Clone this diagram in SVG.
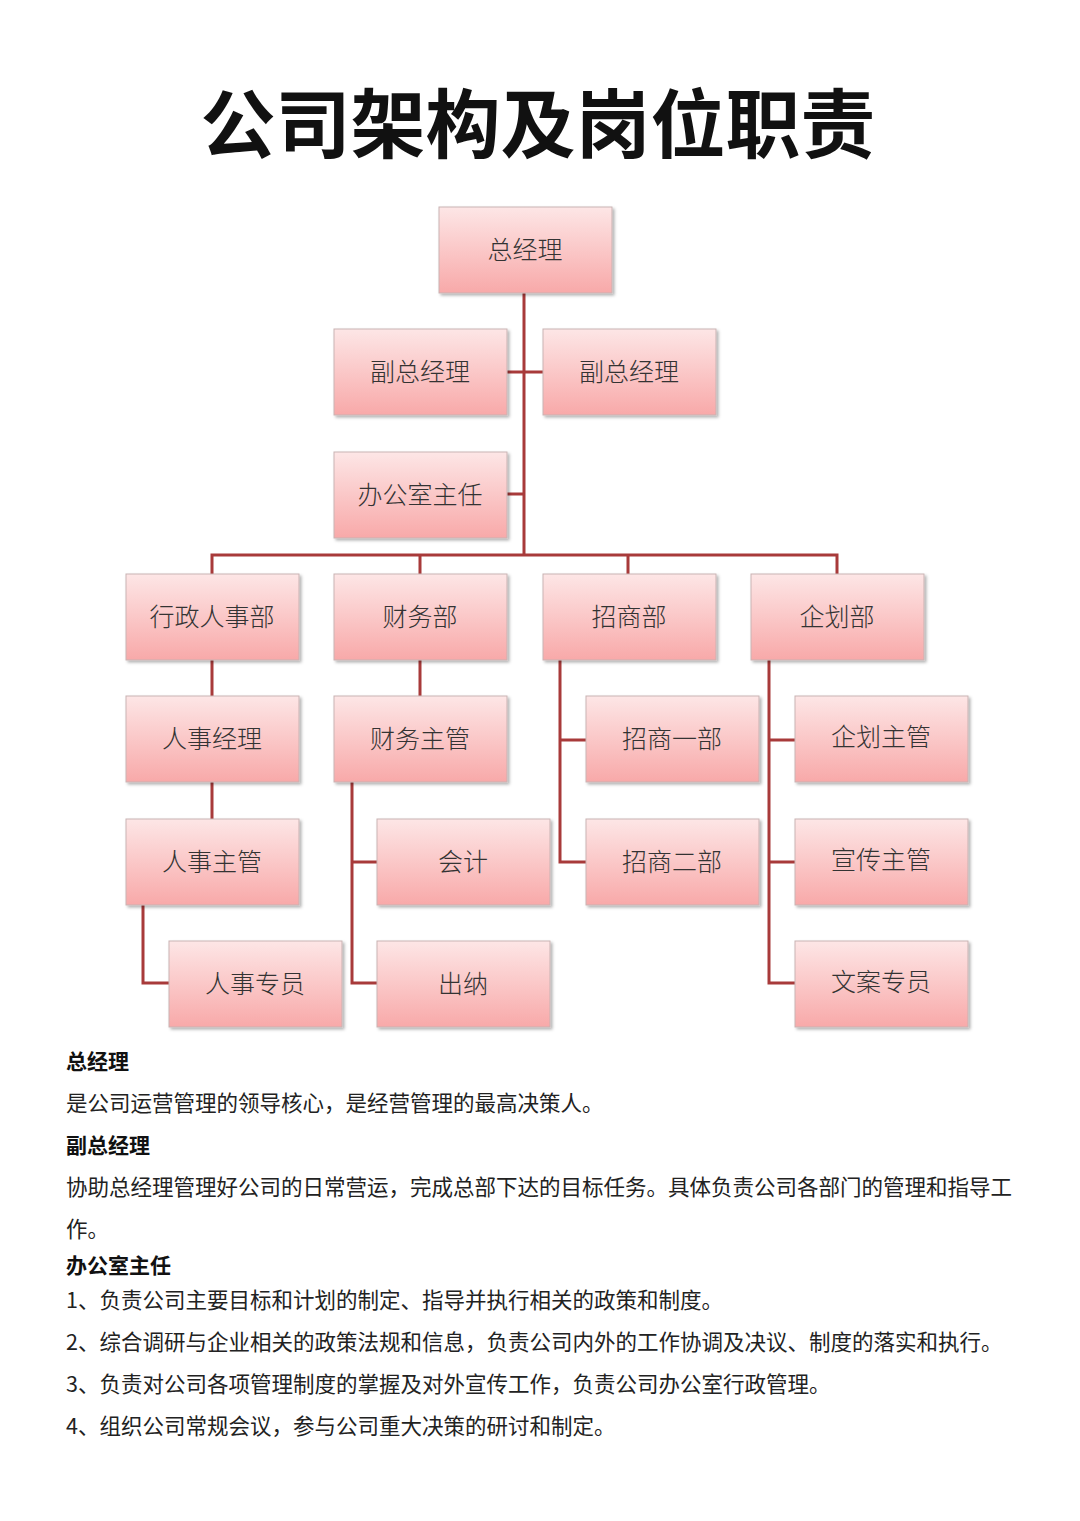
<svg xmlns="http://www.w3.org/2000/svg" width="1080" height="1521" viewBox="0 0 1080 1521">
<defs>
<linearGradient id="g" x1="0" y1="0" x2="0" y2="1"><stop offset="0" stop-color="#fde6e6"/><stop offset="1" stop-color="#f8a9a9"/></linearGradient>
<filter id="s" x="-10%" y="-10%" width="130%" height="130%"><feDropShadow dx="2" dy="2" stdDeviation="1.5" flood-color="#000" flood-opacity="0.3"/></filter>
<style>
.b{fill:url(#g);stroke:#c9b3b3;stroke-width:1;filter:url(#s)}
.t{font-family:"Noto Sans CJK SC",sans-serif;font-size:25px;fill:#333;text-anchor:middle;font-weight:300}
.c{fill:none;stroke:#a83a3a;stroke-width:3}
.h{font-family:"Noto Sans CJK SC",sans-serif;font-size:21px;font-weight:bold;fill:#111}
.p{font-family:"Noto Sans CJK SC",sans-serif;font-size:21.5px;fill:#222}
</style>
</defs>
<rect width="1080" height="1521" fill="#fff"/>
<text x="538" y="152" text-anchor="middle" font-family="Noto Sans CJK SC, sans-serif" font-size="75" font-weight="bold" fill="#111">公司架构及岗位职责</text>
<g id="connectors">
<path class="c" d="M524 293V555M507 372H543M507 494H524M212 574V555H837V574M420 555V574M628 555V574"/>
<path class="c" d="M212 660V696M212 782V819M143 905V983H169"/>
<path class="c" d="M420 660V696M352 782V983H377M352 862H377"/>
<path class="c" d="M560 660V862H586M560 740H586"/>
<path class="c" d="M769 660V983H795M769 740H795M769 862H795"/>
</g>
<g id="n1"><rect class="b" x="439" y="207" width="173" height="86"/><text class="t" x="525" y="259">总经理</text></g>
<g id="n2"><rect class="b" x="334" y="329" width="173" height="86"/><text class="t" x="420" y="381">副总经理</text></g>
<g id="n3"><rect class="b" x="543" y="329" width="173" height="86"/><text class="t" x="629" y="381">副总经理</text></g>
<g id="n4"><rect class="b" x="334" y="452" width="173" height="86"/><text class="t" x="420" y="504">办公室主任</text></g>
<g id="n5"><rect class="b" x="126" y="574" width="173" height="86"/><text class="t" x="212" y="626">行政人事部</text></g>
<g id="n6"><rect class="b" x="334" y="574" width="173" height="86"/><text class="t" x="420" y="626">财务部</text></g>
<g id="n7"><rect class="b" x="543" y="574" width="173" height="86"/><text class="t" x="629" y="626">招商部</text></g>
<g id="n8"><rect class="b" x="751" y="574" width="173" height="86"/><text class="t" x="837" y="626">企划部</text></g>
<g id="n9"><rect class="b" x="126" y="696" width="173" height="86"/><text class="t" x="212" y="748">人事经理</text></g>
<g id="n10"><rect class="b" x="334" y="696" width="173" height="86"/><text class="t" x="420" y="748">财务主管</text></g>
<g id="n11"><rect class="b" x="586" y="696" width="173" height="86"/><text class="t" x="672" y="748">招商一部</text></g>
<g id="n12"><rect class="b" x="795" y="696" width="173" height="86"/><text class="t" x="881" y="746">企划主管</text></g>
<g id="n13"><rect class="b" x="126" y="819" width="173" height="86"/><text class="t" x="212" y="871">人事主管</text></g>
<g id="n14"><rect class="b" x="377" y="819" width="173" height="86"/><text class="t" x="463" y="871">会计</text></g>
<g id="n15"><rect class="b" x="586" y="819" width="173" height="86"/><text class="t" x="672" y="871">招商二部</text></g>
<g id="n16"><rect class="b" x="795" y="819" width="173" height="86"/><text class="t" x="881" y="869">宣传主管</text></g>
<g id="n17"><rect class="b" x="169" y="941" width="173" height="86"/><text class="t" x="255" y="993">人事专员</text></g>
<g id="n18"><rect class="b" x="377" y="941" width="173" height="86"/><text class="t" x="463" y="993">出纳</text></g>
<g id="n19"><rect class="b" x="795" y="941" width="173" height="86"/><text class="t" x="881" y="991">文案专员</text></g>
<text class="h" x="66" y="1069">总经理</text>
<text class="p" x="66" y="1111">是公司运营管理的领导核心，是经营管理的最高决策人。</text>
<text class="h" x="66" y="1153">副总经理</text>
<text class="p" x="66" y="1195">协助总经理管理好公司的日常营运，完成总部下达的目标任务。具体负责公司各部门的管理和指导工</text>
<text class="p" x="66" y="1237">作。</text>
<text class="h" x="66" y="1273">办公室主任</text>
<text class="p" x="66" y="1308">1、负责公司主要目标和计划的制定、指导并执行相关的政策和制度。</text>
<text class="p" x="66" y="1350">2、综合调研与企业相关的政策法规和信息，负责公司内外的工作协调及决议、制度的落实和执行。</text>
<text class="p" x="66" y="1392">3、负责对公司各项管理制度的掌握及对外宣传工作，负责公司办公室行政管理。</text>
<text class="p" x="66" y="1434">4、组织公司常规会议，参与公司重大决策的研讨和制定。</text>
</svg>
